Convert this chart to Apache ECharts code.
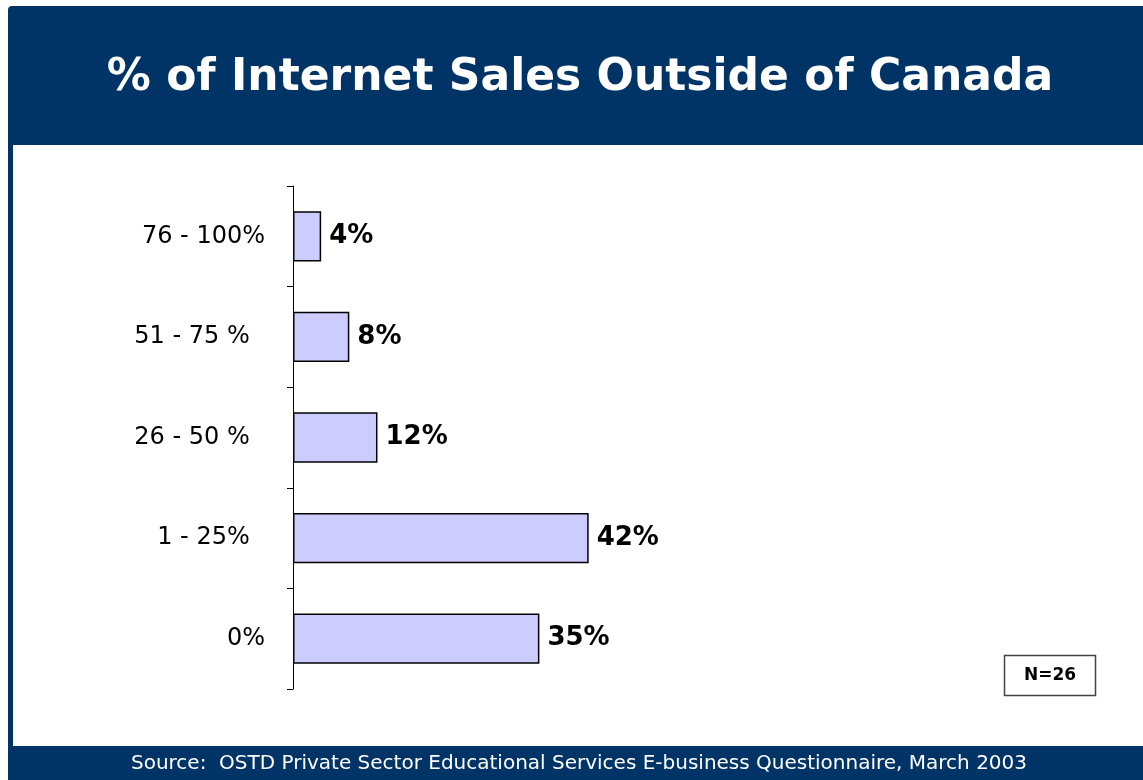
<!DOCTYPE html>
<html>
<head>
<meta charset="utf-8">
<script src="https://cdn.jsdelivr.net/npm/echarts@6/dist/echarts.min.js"></script>
<style>
  html, body { margin: 0; padding: 0; background: #ffffff; }
  #chart { width: 1143px; height: 780px; }
</style>
</head>
<body>
<div id="chart"></div>
<script>
// Share of a firm's internet sales made outside Canada (bottom to top)
const categories = ['0%', '1 - 25%  ', '26 - 50 %  ', '51 - 75 %  ', '76 - 100%'];
const shareValues = [35, 42, 12, 8, 4];
const titleText = '% of Internet Sales Outside of Canada';
const sourceText = 'Source:  OSTD Private Sector Educational Services E-business Questionnaire, March 2003';
const sampleText = 'N=26';

const NAVY = '#003366';
const FONT = 'DejaVu Sans, Verdana, sans-serif';

const chart = echarts.init(document.getElementById('chart'), null, { renderer: 'canvas' });

chart.setOption({
  backgroundColor: '#ffffff',
  animation: false,
  graphic: [
    // frame: title band, left border, footer band
    { type: 'rect', z: -10, shape: { x: 8, y: 6, width: 1135, height: 139, r: [4, 0, 0, 0] }, style: { fill: NAVY } },
    { type: 'rect', z: -10, shape: { x: 8, y: 140, width: 5, height: 620 }, style: { fill: NAVY } },
    { type: 'rect', z: -10, shape: { x: 8, y: 746, width: 1135, height: 34 }, style: { fill: NAVY } },
    {
      type: 'text', x: 580, y: 79,
      style: { text: titleText, fill: '#ffffff', font: 'bold 44px ' + FONT, textAlign: 'center', textVerticalAlign: 'middle' }
    },
    {
      type: 'text', x: 579, y: 764,
      style: { text: sourceText, fill: '#ffffff', font: '20px ' + FONT, textAlign: 'center', textVerticalAlign: 'middle' }
    },
    {
      type: 'rect', shape: { x: 1004.5, y: 655.5, width: 91, height: 40 },
      style: { fill: '#ffffff', stroke: '#444444', lineWidth: 1.5 }
    },
    {
      type: 'text', x: 1050, y: 676,
      style: { text: sampleText, fill: '#000000', font: 'bold 17px ' + FONT, textAlign: 'center', textVerticalAlign: 'middle' }
    }
  ],
  grid: { left: 293, top: 186, right: 146, bottom: 91, containLabel: false },
  xAxis: { type: 'value', min: 0, max: 100, show: false },
  yAxis: {
    type: 'category',
    data: categories,
    axisLine: { show: true, lineStyle: { color: '#000000', width: 1 } },
    axisTick: { show: true, length: 6, lineStyle: { color: '#000000', width: 1 } },
    axisLabel: { margin: 28, color: '#000000', fontFamily: FONT, fontSize: 24 },
    splitLine: { show: false }
  },
  series: [{
    type: 'bar',
    data: shareValues,
    barWidth: '50%',
    itemStyle: { color: '#ccccff', borderColor: '#000000', borderWidth: 1.5 },
    label: {
      show: true, position: 'right', distance: 8,
      formatter: '{c}%', color: '#000000', fontFamily: FONT, fontWeight: 'bold', fontSize: 26
    }
  }]
});
</script>
</body>
</html>
